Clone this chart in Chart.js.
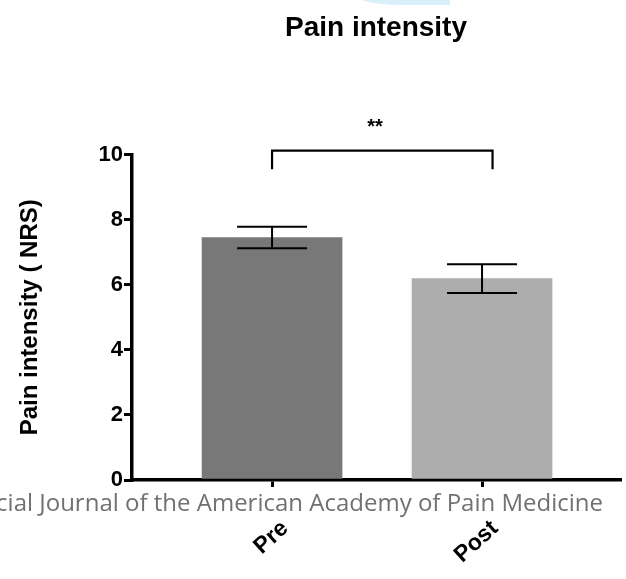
<!DOCTYPE html>
<html lang="en">
<head>
  <meta charset="UTF-8">
  <title>Pain intensity</title>
  <script src="https://cdn.jsdelivr.net/npm/chart.js"></script>
  <style>
    html, body { margin: 0; padding: 0; background: #fff; }
    #wrap { width: 626px; height: 579px; }
  </style>
</head>
<body>
  <div id="wrap"><canvas id="painChart"></canvas></div>

<script>
  // values
  const groups = ['Pre', 'Post'];
  const groupPos = [1, 2];
  const meanNRS = [7.45, 6.19];
  const semNRS = [0.33, 0.44];
  const yTicks = [0, 2, 4, 6, 8, 10];
  const barColors = ['#787878', '#adadad'];
  const bracketX = [1, 2.05];
  const bracketY = [9.55, 10.12];
  const sigLabel = '**';
  const sigPos = [1.49, 10.65];
  const sourceNote = 'cial Journal of the American Academy of Pain Medicine';

  const FONT = '"Liberation Sans", Arial, sans-serif';

  // error bars, significance bracket, and the page bits around the chart
  const overlay = {
    id: 'overlay',
    afterDatasetsDraw(chart) {
      const ctx = chart.ctx;
      const xs = chart.scales.x;
      const ys = chart.scales.y;
      ctx.save();
      ctx.strokeStyle = '#000';
      ctx.lineWidth = 2;
      groupPos.forEach((g, i) => {
        const x = xs.getPixelForValue(g);
        const top = ys.getPixelForValue(meanNRS[i] + semNRS[i]);
        const bot = ys.getPixelForValue(meanNRS[i] - semNRS[i]);
        ctx.beginPath();
        ctx.moveTo(x, top); ctx.lineTo(x, bot);
        ctx.moveTo(x - 35, top); ctx.lineTo(x + 35, top);
        ctx.moveTo(x - 35, bot); ctx.lineTo(x + 35, bot);
        ctx.stroke();
      });

      // bracket
      const bx0 = xs.getPixelForValue(bracketX[0]);
      const bx1 = xs.getPixelForValue(bracketX[1]);
      const by0 = ys.getPixelForValue(bracketY[0]);
      const by1 = ys.getPixelForValue(bracketY[1]);
      ctx.lineWidth = 2.2;
      ctx.beginPath();
      ctx.moveTo(bx0, by0); ctx.lineTo(bx0, by1);
      ctx.lineTo(bx1, by1); ctx.lineTo(bx1, by0);
      ctx.stroke();

      ctx.fillStyle = '#000';
      ctx.font = 'bold 20px ' + FONT;
      ctx.textAlign = 'center';
      ctx.textBaseline = 'alphabetic';
      ctx.fillText(sigLabel, xs.getPixelForValue(sigPos[0]), ys.getPixelForValue(sigPos[1]));

      // journal banner text and the blue mark at the top edge
      ctx.fillStyle = '#717171';
      ctx.font = '24px "Open Sans", sans-serif';
      ctx.textAlign = 'right';
      ctx.fillText(sourceNote, 603, 511);

      ctx.fillStyle = '#d9f0fc';
      ctx.beginPath();
      ctx.moveTo(362, 0);
      ctx.quadraticCurveTo(375, 5, 405, 5);
      ctx.lineTo(450, 5);
      ctx.lineTo(450, 0);
      ctx.closePath();
      ctx.fill();
      ctx.restore();
    }
  };

  const ctx = document.getElementById('painChart').getContext('2d');
  new Chart(ctx, {
    type: 'bar',
    data: {
      datasets: [{
        data: groupPos.map((g, i) => ({ x: g, y: meanNRS[i] })),
        backgroundColor: barColors,
        borderWidth: 0,
        barThickness: 140
      }]
    },
    options: {
      responsive: true,
      maintainAspectRatio: false,
      animation: false,
      layout: { padding: { left: 0, right: 6, top: 0, bottom: 0 } },
      plugins: {
        legend: { display: false },
        tooltip: { enabled: false },
        title: {
          display: true,
          text: 'Pain intensity',
          color: '#000',
          fullSize: false,
          font: { family: FONT, size: 28, weight: 'bold' },
          padding: { top: 11, bottom: 110 }
        }
      },
      scales: {
        x: {
          type: 'linear',
          offset: false,
          min: 0.333,
          max: 2.657,
          afterBuildTicks: axis => { axis.ticks = groupPos.map(v => ({ value: v })); },
          afterFit: s => { s.height = 99; },
          border: { color: '#000', width: 3.5 },
          grid: { offset: false, drawOnChartArea: false, color: '#000', lineWidth: 3, tickLength: 7 },
          ticks: {
            color: '#000',
            font: { family: FONT, size: 23, weight: 'bold' },
            minRotation: 42,
            maxRotation: 42,
            padding: 28,
            labelOffset: 13,
            callback: v => groups[groupPos.indexOf(v)]
          }
        },
        y: {
          min: 0,
          max: 10,
          afterBuildTicks: axis => { axis.ticks = yTicks.map(v => ({ value: v })); },
          afterFit: s => { s.width = 132; },
          border: { color: '#000', width: 3.5 },
          grid: { drawOnChartArea: false, color: '#000', lineWidth: 3, tickLength: 8 },
          ticks: {
            color: '#000',
            padding: 1,
            font: { family: FONT, size: 22, weight: 'bold' }
          },
          title: {
            display: true,
            text: 'Pain intensity ( NRS)',
            color: '#000',
            font: { family: FONT, size: 24, weight: 'bold' },
            padding: { top: 16, bottom: 0 }
          }
        }
      }
    },
    plugins: [overlay]
  });
</script>

</body>
</html>
